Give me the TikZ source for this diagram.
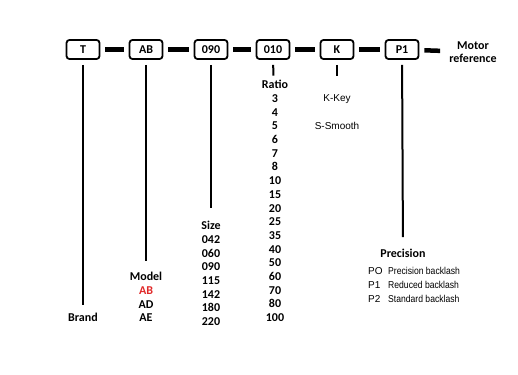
\documentclass[tikz,border=0pt]{standalone}
\usepackage{fontspec}
\setmainfont{Carlito}
\newfontfamily\optfont{Liberation Sans}
\newfontfamily\narrowfont[FakeStretch=0.86]{Liberation Sans}
\definecolor{modelred}{RGB}{224,40,40}

\begin{document}
\begin{tikzpicture}[
    x=1pt, y=-1pt,
    code/.style={draw, rounded corners=3pt, line width=1.8pt, minimum width=33pt, minimum height=19pt, inner sep=0pt, font=\bfseries\fontsize{12}{14}\selectfont},
    bar/.style={line width=4.5pt, shorten <=5pt, shorten >=5pt},
    stem/.style={line width=2pt, shorten <=5pt},
    lbl/.style={inner sep=0pt, align=center, font=\bfseries\fontsize{12}{13.7}\selectfont},
    opt/.style={inner sep=0pt, font=\optfont\fontsize{10}{14}\selectfont}
]
    \useasboundingbox (0,0) rectangle (518,374);

    % Code boxes
    \node[code] (T) at (83, 49.5) {T};
    \node[code] (AB) at (146, 49.5) {AB};
    \node[code] (size) at (211, 49.5) {090};
    \node[code] (ratio) at (273, 49.5) {010};
    \node[code] (K) at (337, 49.5) {K};
    \node[code] (P1) at (402, 49.5) {P1};
    \node[lbl, font=\bfseries\fontsize{12}{12.6}\selectfont] (motor) at (473, 52) {Motor\\reference};

    \draw[bar] (T) -- (AB);
    \draw[bar] (AB) -- (size);
    \draw[bar] (size) -- (ratio);
    \draw[bar] (ratio) -- (K);
    \draw[bar] (K) -- (P1);
    \draw[bar, shorten >=9pt] (P1) -- (motor);

    % Labels
    \node[lbl] (brand) at (83, 317) {Brand};
    \node[lbl] (model) at (146, 297) {Model\\\textcolor{modelred}{AB}\\AD\\AE};
    \node[lbl] (sizes) at (211, 273.5) {Size\\042\\060\\090\\115\\142\\180\\220};
    \node[lbl] (ratios) at (275, 201) {Ratio\\3\\4\\5\\6\\7\\8\\10\\15\\20\\25\\35\\40\\50\\60\\70\\80\\100};
    \node[opt, align=center, font=\optfont\fontsize{10}{28}\selectfont] (keys) at (337, 112.5) {K-Key\\S-Smooth};
    \node[lbl] (prec) at (403, 253) {Precision};
    \node[opt, align=left, anchor=west] (precs) at (368, 284.5)
        {\makebox[20pt][l]{PO}{\narrowfont Precision backlash}\\
         \makebox[20pt][l]{P1}{\narrowfont Reduced backlash}\\
         \makebox[20pt][l]{P2}{\narrowfont Standard backlash}};

    \draw[stem, shorten >=7.5pt] (T) -- (brand);
    \draw[stem, shorten >=11.5pt] (AB) -- (model);
    \draw[stem, shorten >=13.5pt] (size) -- (sizes);
    \draw[stem, shorten >=4.5pt] (ratio) -- (ratios);
    \draw[stem, shorten >=19pt] (K) -- (keys);
    \draw[stem, shorten >=11.5pt] (P1) -- (prec);
\end{tikzpicture}
\end{document}
